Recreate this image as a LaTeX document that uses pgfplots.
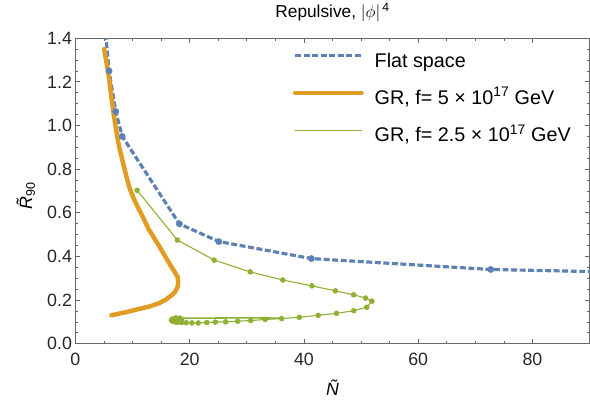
\documentclass[border=0pt]{standalone}
\usepackage{fontspec}
\setmainfont{Liberation Sans}
\usepackage{pgfplots}
\pgfplotsset{compat=1.18}
\definecolor{mblue}{rgb}{0.368417,0.506779,0.709798}
\definecolor{morange}{rgb}{0.880722,0.611041,0.142051}
\definecolor{mgreen}{rgb}{0.560181,0.691569,0.194885}
\definecolor{frame}{gray}{0.4}
\begin{document}
\begin{tikzpicture}
\begin{axis}[
  name=ax,
  scale only axis,
  width=518.4bp, height=308bp,
  xmin=0, xmax=90, ymin=0, ymax=1.4,
  xtick={0,20,...,80}, minor x tick num=3,
  ytick={0,0.2,...,1.4}, minor y tick num=3,
  major tick length=5bp, minor tick length=3bp,
  axis line style={frame, line width=0.8bp},
  every tick/.style={frame, line width=0.7bp},
  tick label style={black!85, font=\fontsize{18}{21}\selectfont},
  /pgf/number format/assume math mode=true,
  yticklabel style={/pgf/number format/.cd, fixed, fixed zerofill, precision=1},
  xticklabel style={yshift=-6bp},
  title={Repulsive, $|\phi|$\textsuperscript{\,4}},
  title style={font=\fontsize{17.5}{20}\selectfont, at={(axis description cs:0.5,1.064)}, anchor=center},
  xlabel={\itshape Ñ},
  xlabel style={font=\fontsize{18}{21}\selectfont, at={(axis description cs:0.5,-0.143)}, anchor=center},
  ylabel={\itshape \~{R}\upshape\textsubscript{90}},
  ylabel style={font=\fontsize{18}{21}\selectfont, at={(axis description cs:-0.0965,0.484)}, anchor=center, rotate=0},
  legend cell align=left,
  legend style={draw=none, fill=none, inner sep=0pt,
    at={(rel axis cs:0.4225,0.9513)}, anchor=north west,
    font=\fontsize{20}{24}\selectfont,
    nodes={inner sep=0pt, text height=14bp, text depth=5bp},
    row sep=18.5bp,
    /tikz/every odd column/.append style={column sep=11bp}},
  legend image code/.code={\draw[#1] (0bp,7bp) -- (67bp,7bp);},
]
% Flat space
\addplot[mblue, line width=3.2bp, dash pattern=on 6bp off 2.6bp] coordinates {
 (5.3,1.42) (5.9,1.25) (7.07,1.064) (8.2,0.95) (18.2,0.549) (25.1,0.468)
 (41.3,0.39) (72.7,0.34) (95,0.328)
};
\addlegendentry{Flat space}
% GR f=5e17
\addplot[morange, line width=4.5bp, line join=round, line cap=round] coordinates {
 (5.03,1.35) (5.5,1.28) (5.9,1.215) (6.35,1.12) (6.77,1.04) (7.2,0.97) (7.64,0.905)
 (8.05,0.86) (8.7,0.79) (9.4,0.72) (10.2,0.665) (11.1,0.617) (12.0,0.57) (12.8,0.526)
 (13.7,0.488) (14.6,0.45) (15.5,0.41) (16.3,0.374) (17.1,0.34) (17.9,0.306)
 (18.0,0.28) (17.9,0.26) (17.5,0.24) (16.9,0.223) (15.9,0.203) (14.6,0.185)
 (12.9,0.17) (11.1,0.159) (9.9,0.151) (8.8,0.144) (7.5,0.137) (6.3,0.13)
};
\addlegendentry{GR, f= 5 × 10\textsuperscript{17} GeV}
% GR f=2.5e17
\addplot[mgreen, line width=1.1bp, mark=*, mark size=2.5bp, mark options={solid, fill=mgreen, draw=mgreen, line width=0.5bp}] coordinates {
 (10.8,0.703) (17.85,0.475) (24.3,0.383) (30.6,0.329) (36.3,0.292) (41.4,0.265)
 (45.5,0.242) (48.7,0.224) (50.8,0.209) (51.9,0.195) (51.0,0.167) (48.7,0.151)
 (45.7,0.139) (42.5,0.130) (39.2,0.121) (36.1,0.115) (33.2,0.111) (30.7,0.106)
 (28.4,0.103) (26.3,0.100) (24.5,0.099) (23.0,0.097) (21.5,0.095) (20.4,0.095)
 (19.4,0.096) (18.6,0.097) (18.0,0.099) (17.4,0.101) (17.0,0.104) (16.8,0.108)
 (17.0,0.113) (17.6,0.118) (18.3,0.117) (18.6,0.110) (18.3,0.102) (17.6,0.099)
 (17.1,0.103) (17.0,0.109) (17.4,0.114) (18.0,0.113) (18.2,0.107) (17.8,0.104)
 (17.5,0.108) (17.8,0.111)
};
\addlegendentry{GR, f= 2.5 × 10\textsuperscript{17} GeV}
\addplot[mgreen, line width=1.6bp, forget plot] coordinates {
 (17.8,0.117) (22,0.117) (27,0.118) (32,0.118) (36.1,0.117)
};
% dots on flat space
\addplot[only marks, mark=*, mark size=3.2bp, mblue, mark options={fill=mblue, draw=mblue}, forget plot] coordinates {
 (5.9,1.25) (7.07,1.064) (8.2,0.95) (18.2,0.549) (25.1,0.468) (41.3,0.39) (72.7,0.34)
};
\end{axis}
\path[use as bounding box] ([xshift=-76bp,yshift=-71bp]ax.south west) rectangle ([xshift=-4.4bp,yshift=31bp]ax.north east);
\end{tikzpicture}
\end{document}
